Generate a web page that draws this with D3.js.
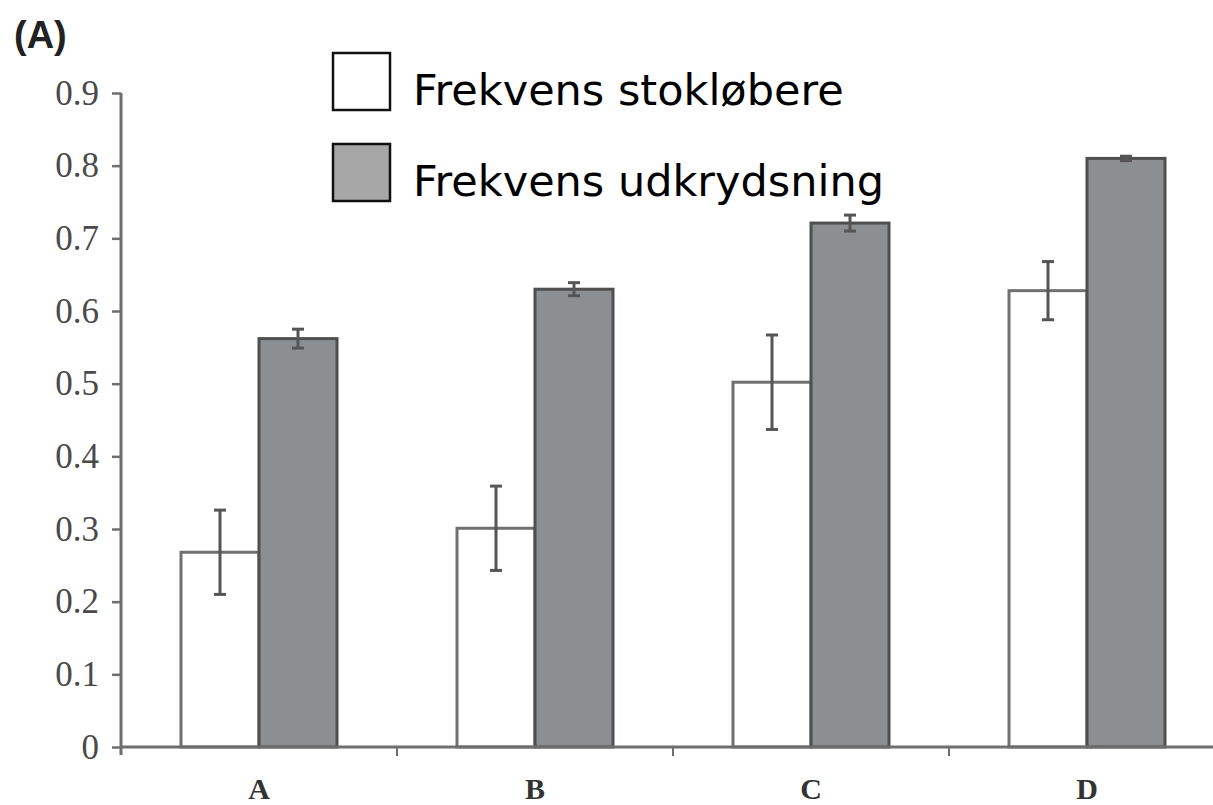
<!DOCTYPE html>
<html>
<head>
<meta charset="utf-8">
<script src="https://cdn.jsdelivr.net/npm/d3@7"></script>
<style>
  body { margin: 0; background: #fff; }
  svg { display: block; }
</style>
</head>
<body>
<div id="chart"></div>
<script>
// data
var categories = ["A", "B", "C", "D"];
var seriesNames = ["Frekvens stokløbere", "Frekvens udkrydsning"];
var stoklobere = [0.268, 0.301, 0.502, 0.628];
var stokloebereErr = [0.058, 0.058, 0.065, 0.040];
var udkrydsning = [0.562, 0.630, 0.721, 0.810];
var udkrydsningErr = [0.013, 0.009, 0.011, 0.003];
var yTicks = [0, 0.1, 0.2, 0.3, 0.4, 0.5, 0.6, 0.7, 0.8, 0.9];

var W = 1213, H = 805;

var svg = d3.select("#chart").append("svg")
    .attr("width", W)
    .attr("height", H);

// scales
var y = d3.scaleLinear()
    .domain([0, 0.9])
    .range([747, 93]);

var x0 = d3.scaleBand()
    .domain(categories)
    .range([121, 1225])
    .padding(0);

var x1 = d3.scaleBand()
    .domain([0, 1])
    .range([60, x0.bandwidth() - 60])
    .padding(0);

var rows = categories.map(function(c, i) {
    return {cat: c, vals: [
        {s: 0, v: stoklobere[i], e: stokloebereErr[i]},
        {s: 1, v: udkrydsning[i], e: udkrydsningErr[i]}
    ]};
});

var fills = ["#ffffff", "#8c8f92"];
var strokes = ["#707070", "#4f4f4f"];

// bars
var groups = svg.selectAll(".grp")
    .data(rows)
    .enter().append("g")
    .attr("class", "grp")
    .attr("transform", function(d) { return "translate(" + x0(d.cat) + ",0)"; });

groups.selectAll("rect")
    .data(function(d) { return d.vals; })
    .enter().append("rect")
    .attr("x", function(d) { return x1(d.s); })
    .attr("y", function(d) { return y(d.v); })
    .attr("width", x1.bandwidth())
    .attr("height", function(d) { return y(0) - y(d.v); })
    .attr("fill", function(d) { return fills[d.s]; })
    .attr("stroke", function(d) { return strokes[d.s]; })
    .attr("stroke-width", 3);

// error bars
var eb = groups.selectAll(".err")
    .data(function(d) { return d.vals; })
    .enter().append("g")
    .attr("class", "err")
    .attr("stroke", "#555")
    .attr("stroke-width", 3);

eb.append("line")
    .attr("x1", function(d) { return x1(d.s) + x1.bandwidth() / 2; })
    .attr("x2", function(d) { return x1(d.s) + x1.bandwidth() / 2; })
    .attr("y1", function(d) { return y(d.v + d.e); })
    .attr("y2", function(d) { return y(d.v - d.e); });

[1, -1].forEach(function(sign) {
    eb.append("line")
        .attr("x1", function(d) { return x1(d.s) + x1.bandwidth() / 2 - 6; })
        .attr("x2", function(d) { return x1(d.s) + x1.bandwidth() / 2 + 6; })
        .attr("y1", function(d) { return y(d.v + sign * d.e); })
        .attr("y2", function(d) { return y(d.v + sign * d.e); });
});

// y axis
var yAxis = d3.axisLeft(y)
    .tickValues(yTicks)
    .tickSize(9)
    .tickPadding(13)
    .tickFormat(function(d) { return d === 0 ? "0" : d3.format(".1f")(d); });

var gy = svg.append("g")
    .attr("transform", "translate(121,0)")
    .call(yAxis);
gy.select(".domain").attr("stroke", "#6e6e6e").attr("stroke-width", 3)
    .attr("d", "M0," + y(0.9) + "V" + (y(0) + 8));
gy.selectAll(".tick line").attr("stroke", "#6e6e6e").attr("stroke-width", 2.5);
gy.selectAll(".tick text")
    .attr("fill", "#4a4a4a")
    .style("font-family", "'Liberation Serif', 'DejaVu Serif', serif")
    .style("font-size", "35px");

// x axis: ticks sit between categories
var gx = svg.append("g")
    .attr("transform", "translate(0," + y(0) + ")");
gx.append("line")
    .attr("x1", 121).attr("x2", W)
    .attr("stroke", "#6e6e6e").attr("stroke-width", 3);
gx.selectAll(".sep")
    .data(categories.slice(1))
    .enter().append("line")
    .attr("x1", function(d) { return x0(d); })
    .attr("x2", function(d) { return x0(d); })
    .attr("y1", 0).attr("y2", 9)
    .attr("stroke", "#6e6e6e").attr("stroke-width", 2);
gx.selectAll(".lab")
    .data(categories)
    .enter().append("text")
    .attr("x", function(d) { return x0(d) + x0.bandwidth() / 2; })
    .attr("y", 52)
    .attr("text-anchor", "middle")
    .attr("fill", "#333")
    .style("font-family", "'Liberation Serif', 'DejaVu Serif', serif")
    .style("font-weight", "bold")
    .style("font-size", "30px")
    .text(function(d) { return d; });

// panel label
svg.append("text")
    .attr("x", 14).attr("y", 48)
    .attr("fill", "#222")
    .style("font-family", "'Liberation Sans', Arial, sans-serif")
    .style("font-weight", "bold")
    .style("font-size", "38px")
    .text("(A)");

// legend
var legend = svg.append("g").attr("transform", "translate(333,53)");
legend.append("rect")
    .attr("x", -12).attr("y", -13)
    .attr("width", 600).attr("height", 160)
    .attr("fill", "#fff");
var li = legend.selectAll(".li")
    .data(seriesNames)
    .enter().append("g")
    .attr("transform", function(d, i) { return "translate(0," + (i * 91) + ")"; });
li.append("rect")
    .attr("width", 57).attr("height", 57)
    .attr("fill", function(d, i) { return i === 0 ? "#fff" : "#a7a7a7"; })
    .attr("stroke", "#111")
    .attr("stroke-width", 2.5);
li.append("text")
    .attr("x", 80).attr("y", 52)
    .attr("fill", "#000")
    .style("font-family", "'DejaVu Sans', Verdana, sans-serif")
    .style("font-size", "43px")
    .text(function(d) { return d; });
</script>
</body>
</html>
